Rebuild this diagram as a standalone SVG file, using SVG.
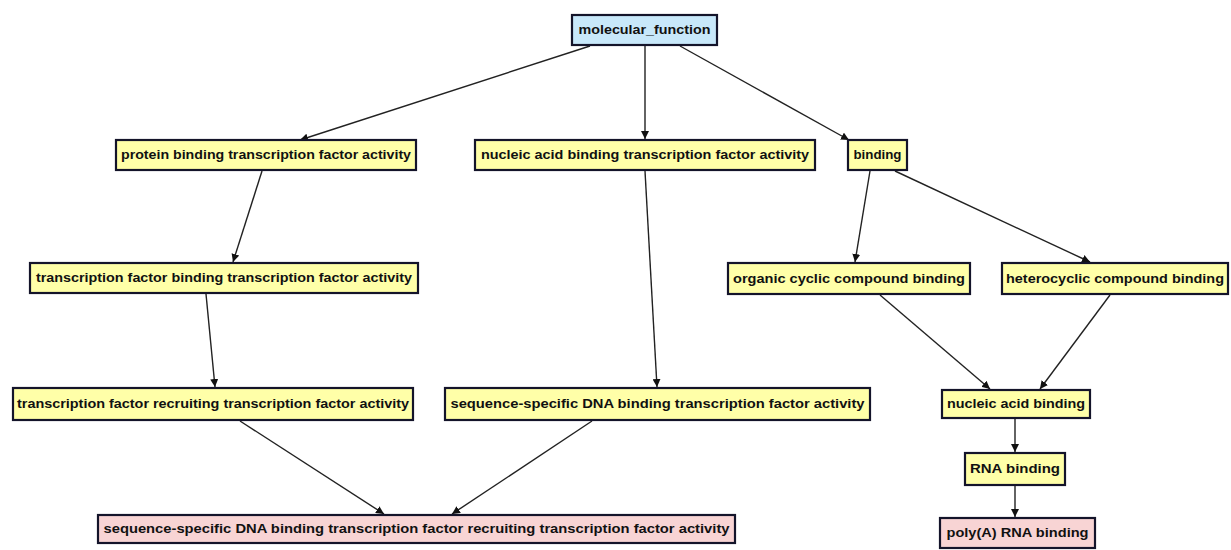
<svg xmlns="http://www.w3.org/2000/svg" width="1231" height="550" viewBox="0 0 1231 550">
<defs>
<marker id="arr" viewBox="0 0 10 10" refX="10" refY="5" markerWidth="8" markerHeight="8" markerUnits="userSpaceOnUse" orient="auto">
<path d="M0,0 L10,5 L0,10 z" fill="#111"/>
</marker>
<style>
.n rect{stroke:#14142a;stroke-width:2.2}
.y rect{fill:#ffffa8}
.p rect{fill:#f8d4d4}
.b rect{fill:#c8e8fa}
.n text{font-family:"Liberation Sans",Arial,sans-serif;font-size:12px;font-weight:bold;fill:#111;text-anchor:middle;dominant-baseline:central}
.e line{stroke:#222;stroke-width:1.4;marker-end:url(#arr)}
</style>
</defs>
<rect width="1231" height="550" fill="#fff"/>
<g class="e">
<line x1="590" y1="46" x2="300" y2="140"/>
<line x1="645" y1="46" x2="645" y2="139"/>
<line x1="680" y1="46" x2="849" y2="140"/>
<line x1="262" y1="171" x2="233" y2="262"/>
<line x1="206" y1="294" x2="215" y2="387"/>
<line x1="645" y1="171" x2="657" y2="387"/>
<line x1="870" y1="171" x2="855" y2="262"/>
<line x1="895" y1="171" x2="1090" y2="262"/>
<line x1="880" y1="295" x2="990" y2="389"/>
<line x1="1110" y1="295" x2="1040" y2="389"/>
<line x1="1015" y1="419" x2="1015" y2="452"/>
<line x1="1015" y1="486" x2="1015" y2="517"/>
<line x1="240" y1="421" x2="384" y2="514"/>
<line x1="592" y1="421" x2="452" y2="514"/>
</g>
<g id="molecular_function" class="n b"><rect x="572" y="15" width="145" height="30"/><text x="644.5" y="30" textLength="132" lengthAdjust="spacingAndGlyphs">molecular_function</text></g>
<g id="protein_binding_tfa" class="n y"><rect x="116" y="140" width="300" height="30"/><text x="266" y="155" textLength="290" lengthAdjust="spacingAndGlyphs">protein binding transcription factor activity</text></g>
<g id="nucleic_acid_binding_tfa" class="n y"><rect x="475" y="140" width="340" height="30"/><text x="645" y="155" textLength="328" lengthAdjust="spacingAndGlyphs">nucleic acid binding transcription factor activity</text></g>
<g id="binding" class="n y"><rect x="848" y="140" width="59" height="30"/><text x="877.5" y="155" textLength="48" lengthAdjust="spacingAndGlyphs">binding</text></g>
<g id="tf_binding_tfa" class="n y"><rect x="30" y="263" width="388" height="30"/><text x="224" y="278" textLength="376" lengthAdjust="spacingAndGlyphs">transcription factor binding transcription factor activity</text></g>
<g id="organic_cyclic" class="n y"><rect x="728" y="263" width="242" height="31"/><text x="849" y="278.5" textLength="232" lengthAdjust="spacingAndGlyphs">organic cyclic compound binding</text></g>
<g id="heterocyclic" class="n y"><rect x="1002" y="263" width="226" height="31"/><text x="1115" y="278.5" textLength="218" lengthAdjust="spacingAndGlyphs">heterocyclic compound binding</text></g>
<g id="tf_recruiting_tfa" class="n y"><rect x="13" y="388" width="400" height="32"/><text x="213" y="404" textLength="392" lengthAdjust="spacingAndGlyphs">transcription factor recruiting transcription factor activity</text></g>
<g id="ssdna_binding_tfa" class="n y"><rect x="445" y="388" width="425" height="32"/><text x="657.5" y="404" textLength="414" lengthAdjust="spacingAndGlyphs">sequence-specific DNA binding transcription factor activity</text></g>
<g id="nucleic_acid_binding" class="n y"><rect x="942" y="390" width="148" height="28"/><text x="1016" y="404" textLength="138" lengthAdjust="spacingAndGlyphs">nucleic acid binding</text></g>
<g id="rna_binding" class="n y"><rect x="965" y="453" width="100" height="32"/><text x="1015" y="469" textLength="90" lengthAdjust="spacingAndGlyphs">RNA binding</text></g>
<g id="ssdna_binding_tf_recruiting_tfa" class="n p"><rect x="98" y="515" width="637" height="28"/><text x="416.5" y="529" textLength="626" lengthAdjust="spacingAndGlyphs">sequence-specific DNA binding transcription factor recruiting transcription factor activity</text></g>
<g id="polya_rna_binding" class="n p"><rect x="940" y="518" width="155" height="30"/><text x="1017.5" y="533" textLength="142" lengthAdjust="spacingAndGlyphs">poly(A) RNA binding</text></g>
</svg>
